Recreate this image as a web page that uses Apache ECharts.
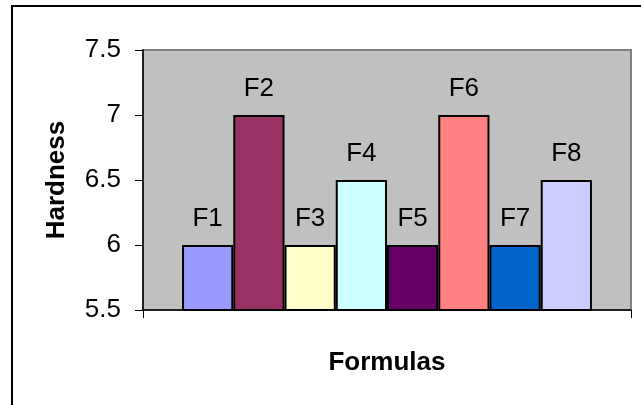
<!DOCTYPE html>
<html>
<head>
<meta charset="utf-8">
<script src="https://cdn.jsdelivr.net/npm/echarts@6/dist/echarts.min.js"></script>
<style>
  html, body { margin: 0; padding: 0; background: #fff; }
  #chart { width: 641px; height: 405px; }
</style>
</head>
<body>
<div id="chart"></div>
<script>
// Hardness of each tablet formula
const formulas = ['F1', 'F2', 'F3', 'F4', 'F5', 'F6', 'F7', 'F8'];
const hardness = [6, 7, 6, 6.5, 6, 7, 6, 6.5];
const barColors = ['#9999FF', '#993366', '#FFFFCC', '#CCFFFF', '#660066', '#FF8080', '#0066CC', '#CCCCFF'];
const categories = [''];
const yTicks = { min: 5.5, max: 7.5, interval: 0.5 };

const font = 'Liberation Sans, Arial, sans-serif';
const fontSize = 26;

const series = formulas.map((name, i) => ({
  name: name,
  type: 'bar',
  data: [hardness[i]],
  barGap: '0%',
  barCategoryGap: '16%',
  itemStyle: { color: barColors[i], borderColor: '#000', borderWidth: 2 },
  label: {
    show: true,
    position: 'top',
    distance: 13,
    formatter: '{a}',
    color: '#000',
    fontFamily: font,
    fontSize: fontSize
  }
}));

const chart = echarts.init(document.getElementById('chart'), null, { renderer: 'canvas' });
chart.setOption({
  animation: false,
  backgroundColor: '#fff',
  graphic: [{
    type: 'rect',
    shape: { x: 12, y: 6, width: 640, height: 410 },
    style: { fill: 'none', stroke: '#000', lineWidth: 2 },
    z: -10
  }],
  grid: {
    left: 143, top: 50, right: 10, bottom: 95,
    show: true,
    backgroundColor: '#C0C0C0',
    borderColor: '#808080',
    borderWidth: 2
  },
  xAxis: {
    type: 'category',
    data: categories,
    name: 'Formulas',
    nameLocation: 'middle',
    nameGap: 40,
    nameTextStyle: { fontFamily: font, fontSize: fontSize, fontWeight: 'bold', color: '#000' },
    axisLine: { lineStyle: { color: '#000', width: 1.5 } },
    axisTick: { show: true, length: 8, lineStyle: { color: '#000' } },
    axisLabel: { show: false }
  },
  yAxis: {
    type: 'value',
    min: yTicks.min,
    max: yTicks.max,
    interval: yTicks.interval,
    name: 'Hardness',
    nameLocation: 'middle',
    nameGap: 73,
    nameTextStyle: { fontFamily: font, fontSize: fontSize, fontWeight: 'bold', color: '#000' },
    axisLine: { show: true, lineStyle: { color: '#000', width: 1.5 } },
    axisTick: { show: true, length: 8, lineStyle: { color: '#000' } },
    axisLabel: { color: '#000', fontFamily: font, fontSize: fontSize, margin: 22 },
    splitLine: { show: false }
  },
  series: series
});
</script>
</body>
</html>
